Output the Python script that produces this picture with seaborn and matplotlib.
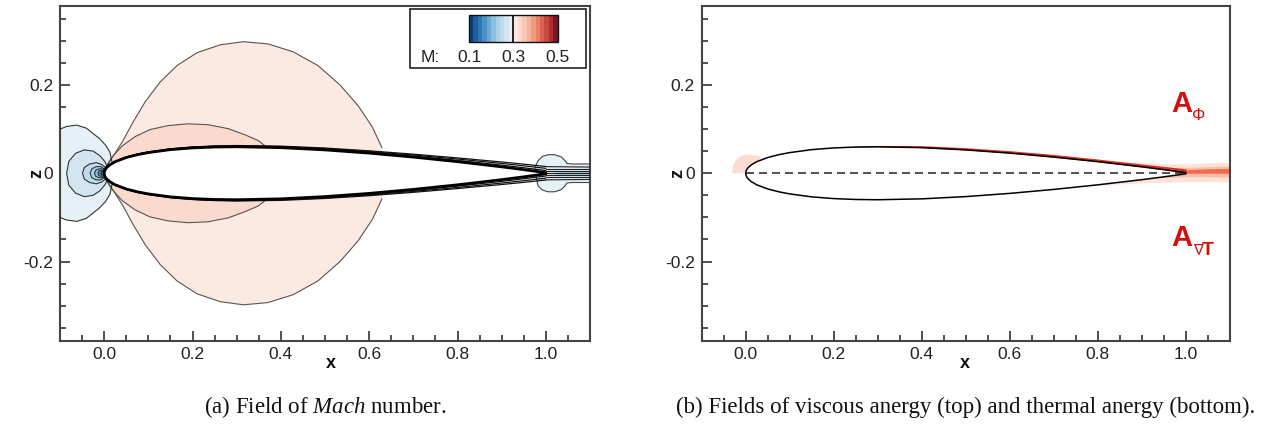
import numpy as np
import pandas as pd
import matplotlib
matplotlib.use("Agg")
import matplotlib.pyplot as plt
import seaborn as sns
from matplotlib.colors import ListedColormap, BoundaryNorm
from matplotlib.cm import ScalarMappable
from matplotlib.patches import Rectangle
from matplotlib.ticker import MultipleLocator

# ---------------- airfoil (NACA 0012 half-thickness table) ----------------
FOIL_X = [0.0, 0.001, 0.0025, 0.005, 0.0125, 0.025, 0.05, 0.075, 0.10, 0.15, 0.20,
          0.25, 0.30, 0.40, 0.50, 0.60, 0.70, 0.80, 0.90, 0.95, 1.00]
FOIL_T = [0.0, 0.0056, 0.0087, 0.0122, 0.0189, 0.0262, 0.0356, 0.0420, 0.0468, 0.0535, 0.0574,
          0.0594, 0.0600, 0.0580, 0.0529, 0.0456, 0.0366, 0.0262, 0.0145, 0.0081, 0.0013]
# spread of the boundary-layer Mach contours off the surface
BL_D = [0.0, 0.0, 0.0, 0.0, 0.0005, 0.0010, 0.0012, 0.0014, 0.0016, 0.0019, 0.0022,
        0.0025, 0.0028, 0.0034, 0.0042, 0.0052, 0.0066, 0.0085, 0.0110, 0.0125, 0.0140]

# ---------------- Mach field regions (upper half, mirrored below) ----------------
LENS_OUTER_X = [0.0, 0.018, 0.041, 0.066, 0.093, 0.127, 0.165, 0.21, 0.263, 0.315,
                0.371, 0.428, 0.484, 0.534, 0.575, 0.607, 0.629]
LENS_OUTER_Z = [0.008, 0.035, 0.071, 0.117, 0.162, 0.207, 0.244, 0.273, 0.291, 0.298,
                0.293, 0.275, 0.244, 0.200, 0.153, 0.105, 0.058]
LENS_OUTER_M = 0.31
LENS_INNER_X = [0.002, 0.018, 0.041, 0.07, 0.104, 0.145, 0.19, 0.235, 0.281, 0.319, 0.349, 0.367]
LENS_INNER_Z = [0.012, 0.037, 0.062, 0.083, 0.099, 0.108, 0.112, 0.110, 0.101, 0.087, 0.074, 0.060]
LENS_INNER_M = 0.33

# stagnation rings ahead of the leading edge
RING_X = [
    [-0.13, -0.10, -0.085, -0.062, -0.04, -0.025, -0.01, 0.003, 0.013, 0.018, 0.012],
    [-0.085, -0.08, -0.065, -0.045, -0.025, -0.01, 0.002, 0.008],
    [-0.049, -0.045, -0.033, -0.018, -0.006, 0.003, 0.007],
    [-0.032, -0.028, -0.018, -0.008, 0.0, 0.005],
    [-0.022, -0.019, -0.012, -0.005, 0.001, 0.004],
    [-0.014, -0.012, -0.007, -0.002, 0.002],
    [-0.008, -0.006, -0.003, 0.0, 0.002],
]
RING_Z = [
    [0.0, 0.100, 0.106, 0.109, 0.102, 0.090, 0.078, 0.064, 0.048, 0.024, 0.010],
    [0.0, 0.027, 0.045, 0.053, 0.050, 0.040, 0.026, 0.012],
    [0.0, 0.013, 0.021, 0.024, 0.020, 0.013, 0.006],
    [0.0, 0.010, 0.015, 0.015, 0.010, 0.004],
    [0.0, 0.007, 0.010, 0.010, 0.006, 0.002],
    [0.0, 0.005, 0.007, 0.006, 0.002],
    [0.0, 0.003, 0.004, 0.003, 0.001],
]
RING_M = [0.29, 0.27, 0.25, 0.23, 0.21, 0.17, 0.13]

# low-Mach bubble at the trailing edge and the wake band
TE_X = [0.975, 0.982, 0.992, 1.005, 1.02, 1.035, 1.044, 1.048, 1.06, 1.08, 1.12]
TE_Z = [0.012, 0.028, 0.038, 0.042, 0.042, 0.037, 0.028, 0.022, 0.021, 0.021, 0.021]
TE_M = 0.29
WAKE_CORE_X = [1.02, 1.05, 1.08, 1.12]
WAKE_CORE_Z = [0.003, 0.004, 0.004, 0.004]
WAKE_CORE_M = 0.23
WAKE_TE_Z = [-0.015, -0.009, -0.004, 0.0, 0.004, 0.009, 0.015]
WAKE_END_Z = [-0.014, -0.009, -0.004, 0.0, 0.004, 0.009, 0.014]

MACH_LEVELS = [0.10, 0.12, 0.14, 0.16, 0.18, 0.20, 0.22, 0.24, 0.26, 0.28, 0.30,
               0.32, 0.34, 0.36, 0.38, 0.40, 0.42, 0.44, 0.46, 0.48, 0.50]
MACH_TICKS = [0.1, 0.3, 0.5]
MACH_TICK_LABELS = ["0.1", "0.3", "0.5"]
MACH_COLORS = ["#0b3b78", "#1f5f9f", "#2f78b5", "#4a91c4", "#6aa8d2", "#8bbfde", "#a8d0e6",
               "#c0dcec", "#d3e5f0", "#e6f0f7",
               "#fce9e1", "#fadacd", "#f8c9b6", "#f5b39b", "#f19a7e", "#e88064", "#da634f",
               "#c8473f", "#ae2b31", "#7e1526"]

# ---------------- anergy fields (right panel) ----------------
VISC_D = [0.0, 0.0, 0.0, 0.0, 0.0, 0.0, 0.0, 0.0, 0.0, 0.0, 0.0,
          0.0010, 0.0030, 0.0045, 0.0050, 0.0055, 0.0060, 0.0060, 0.0065, 0.0075, 0.0085]
HALO_X = [0.80, 0.85, 0.90, 0.95, 1.00, 1.03, 1.06, 1.10]
HALO_HI = [0.027, 0.026, 0.024, 0.022, 0.021, 0.022, 0.024, 0.025]
HALO_LO = [-0.027, -0.024, -0.022, -0.020, -0.019, -0.019, -0.019, -0.020]
MID_X = [0.93, 0.97, 1.00, 1.05, 1.10]
MID_HI = [0.014, 0.013, 0.013, 0.015, 0.016]
MID_LO = [-0.010, -0.009, -0.008, -0.008, -0.009]
CORE_X = [0.96, 1.00, 1.05, 1.10]
CORE_HI = [0.006, 0.008, 0.010, 0.011]
CORE_LO = [0.0, 0.0, 0.0, 0.0]
LE_BLOB_X = [-0.031, -0.029, -0.022, -0.012, 0.0, 0.012, 0.024, 0.034, 0.034, 0.0, -0.031]
LE_BLOB_Z = [0.0, 0.016, 0.030, 0.039, 0.042, 0.042, 0.040, 0.038, 0.015, 0.0, 0.0]

# ---------------- axes text ----------------
X_TICKS = [0.0, 0.2, 0.4, 0.6, 0.8, 1.0]
X_TICK_LABELS = ["0.0", "0.2", "0.4", "0.6", "0.8", "1.0"]
Z_TICKS = [-0.2, 0.0, 0.2]
Z_TICK_LABELS = ["-0.2", "0", "0.2"]
CAPTION_A = r"(a) Field of $\mathit{Mach}$ number."
CAPTION_B = "(b) Fields of viscous anergy (top) and thermal anergy (bottom)."

sns.set_theme(style="white")
plt.rcParams["font.family"] = ["Liberation Sans", "DejaVu Sans"]
plt.rcParams["mathtext.fontset"] = "custom"
plt.rcParams["mathtext.rm"] = "Liberation Serif"
plt.rcParams["mathtext.it"] = "Liberation Serif:italic"
plt.rcParams["xtick.bottom"] = True
plt.rcParams["ytick.left"] = True
plt.rcParams["xtick.minor.visible"] = True
plt.rcParams["ytick.minor.visible"] = True

W, H = 1269, 424
fig = plt.figure(figsize=(W / 100, H / 100), dpi=100)
fig.patch.set_facecolor("white")
axL = fig.add_axes([60 / W, (H - 341) / H, 530 / W, 335.5 / H])
axR = fig.add_axes([701.7 / W, (H - 341) / H, 528.3 / W, 335.5 / H])

cmap = ListedColormap(MACH_COLORS)
norm = BoundaryNorm(MACH_LEVELS, cmap.N)

fx = np.array(FOIL_X)
ft = np.array(FOIL_T)
foil = pd.DataFrame({
    "x": np.concatenate([fx[::-1], fx[1:]]),
    "z": np.concatenate([ft[::-1], -ft[1:]]),
})


def style_axes(ax):
    ax.set_xlim(-0.1, 1.1)
    ax.set_ylim(-0.38, 0.38)
    ax.set_xticks(X_TICKS)
    ax.set_xticklabels(X_TICK_LABELS)
    ax.set_yticks(Z_TICKS)
    ax.set_yticklabels(Z_TICK_LABELS)
    ax.xaxis.set_minor_locator(MultipleLocator(0.05))
    ax.yaxis.set_minor_locator(MultipleLocator(0.05))
    ax.tick_params(which="both", direction="in", bottom=True, left=True, top=False, right=False,
                   color="#222222", width=1.1, labelsize=12.5, labelcolor="#222222")
    ax.tick_params(which="major", length=7, pad=4)
    ax.tick_params(which="minor", length=4)
    ax.tick_params(axis="y", which="major", pad=5)
    for s in ax.spines.values():
        s.set_color("#444444")
        s.set_linewidth(1.5)
    ax.set_xlabel("x", fontsize=13, fontweight="bold", color="#111111")
    ax.set_ylabel("z", fontsize=13, fontweight="bold", color="#111111")
    ax.xaxis.label.set_va("center")
    ax.yaxis.label.set_va("center")
    ax.set_facecolor("white")


# ================= left: Mach number =================
line_kw = dict(color="#555555", lw=0.8, zorder=3)
for sgn in (1, -1):
    for xs, zs, m in ((LENS_OUTER_X, LENS_OUTER_Z, LENS_OUTER_M),
                      (LENS_INNER_X, LENS_INNER_Z, LENS_INNER_M)):
        xs = np.array(xs)
        zs = np.array(zs) * sgn
        axL.fill(np.r_[xs, xs[-1], xs[0]], np.r_[zs, 0, 0], color=cmap(norm(m)), lw=0, zorder=1)
        axL.plot(xs, zs, **line_kw)

for xs, zs, m in zip(RING_X, RING_Z, RING_M):
    xs = np.array(xs)
    zs = np.array(zs)
    axL.fill(np.r_[xs, xs[::-1]], np.r_[zs, -zs[::-1]], color=cmap(norm(m)), lw=0, zorder=2)
    axL.plot(np.r_[xs[::-1], xs[1:]], np.r_[zs[::-1], -zs[1:]], color="#333333", lw=0.8, zorder=3)

tx = np.array(TE_X)
tz = np.array(TE_Z)
axL.fill(np.r_[tx, tx[::-1]], np.r_[tz, -tz[::-1]], color=cmap(norm(TE_M)), lw=0, zorder=2)
axL.plot(np.r_[tx[::-1], tx[1:]], np.r_[tz[::-1], -tz[1:]], color="#444444", lw=0.8, zorder=3)
axL.fill_between(WAKE_CORE_X, -np.array(WAKE_CORE_Z), WAKE_CORE_Z,
                 color=cmap(norm(WAKE_CORE_M)), lw=0, zorder=2)

# airfoil body with boundary-layer contours
axL.fill(foil["x"], foil["z"], color="white", lw=0, zorder=4)
bd = np.array(BL_D)
for f in (0.35, 0.7, 1.0):
    for sgn in (1, -1):
        axL.plot(fx, sgn * (ft + f * bd), color="#111111", lw=0.9, zorder=5)
for z0, z1 in zip(WAKE_TE_Z, WAKE_END_Z):
    axL.plot([1.0, 1.1], [z0, z1], color="#222222", lw=0.8, zorder=5)
sns.lineplot(data=foil, x="x", y="z", sort=False, estimator=None, color="black",
             lw=2.0, ax=axL, zorder=6)
style_axes(axL)
axL.xaxis.set_label_coords(0.511, -0.066)
axL.yaxis.set_label_coords(-0.043, 0.5)

# colour legend box
axL.add_patch(Rectangle(((410 - 60) / 530, (341 - 68.3) / 335.5), 175.7 / 530, 59 / 335.5,
                        transform=axL.transAxes, facecolor="white", edgecolor="#222222",
                        lw=1.2, zorder=10, clip_on=False))
cax = fig.add_axes([469 / W, (H - 41.7) / H, 88.7 / W, 26.7 / H])
cb = fig.colorbar(ScalarMappable(norm=norm, cmap=cmap), cax=cax, orientation="horizontal",
                  ticks=MACH_TICKS)
cb.set_ticklabels(MACH_TICK_LABELS)
cb.outline.set_edgecolor("#111111")
cb.outline.set_linewidth(1.0)
cax.minorticks_off()
cax.axvline(0.3, color="black", lw=1.2)
cax.tick_params(which="both", length=0, labelsize=12.5, pad=6, labelcolor="#222222")
fig.text(430 / W, 1 - 57 / H, "M:", ha="center", va="center", fontsize=12.5, color="#222222")

# ================= right: anergy =================
red_dark = "#d7301f"
axR.fill_between(HALO_X, HALO_LO, HALO_HI, color="#fde2d8", lw=0, zorder=1)
axR.fill_between(MID_X, MID_LO, MID_HI, color="#f9bca7", lw=0, zorder=1)
axR.fill_between(CORE_X, CORE_LO, CORE_HI, color="#f26a4b", lw=0, zorder=1)
axR.fill(LE_BLOB_X, LE_BLOB_Z, color="#fcdcd0", lw=0, zorder=1)
axR.fill(foil["x"], foil["z"], color="white", lw=0, zorder=2)
vd = np.array(VISC_D)
axR.fill_between(fx, ft, ft + vd, color=red_dark, lw=0, zorder=3)
chord = pd.DataFrame({"x": [0.0, 1.0], "z": [0.0, 0.0]})
sns.lineplot(data=chord, x="x", y="z", color="#333333", lw=1.2, ax=axR, zorder=4)
axR.lines[-1].set_dashes((4.8, 3.0))
sns.lineplot(data=foil, x="x", y="z", sort=False, estimator=None, color="black",
             lw=1.1, ax=axR, zorder=5)
style_axes(axR)
axR.xaxis.set_label_coords(0.498, -0.066)
axR.yaxis.set_label_coords(-0.045, 0.5)

red = "#d40f0f"
axR.text(0.991, 0.157, "A", color=red, fontsize=21, fontweight="bold", ha="center", va="center")
axR.text(1.028, 0.130, "Φ", color=red, fontsize=12, ha="center", va="center")
axR.text(0.991, -0.146, "A", color=red, fontsize=21, fontweight="bold", ha="center", va="center")
axR.text(1.028, -0.174, "∇", color=red, fontsize=10.5, ha="center", va="center")
axR.text(1.050, -0.174, "T", color=red, fontsize=14, fontweight="bold", ha="center", va="center")

# captions
fig.text(325 / W, 1 - 407 / H, CAPTION_A, ha="center", va="center", fontsize=16.5,
         family="Liberation Serif", color="#111111")
fig.text(966 / W, 1 - 407 / H, CAPTION_B, ha="center", va="center", fontsize=16.5,
         family="Liberation Serif", color="#111111")

fig.savefig("out.png", dpi=100, facecolor="white")
